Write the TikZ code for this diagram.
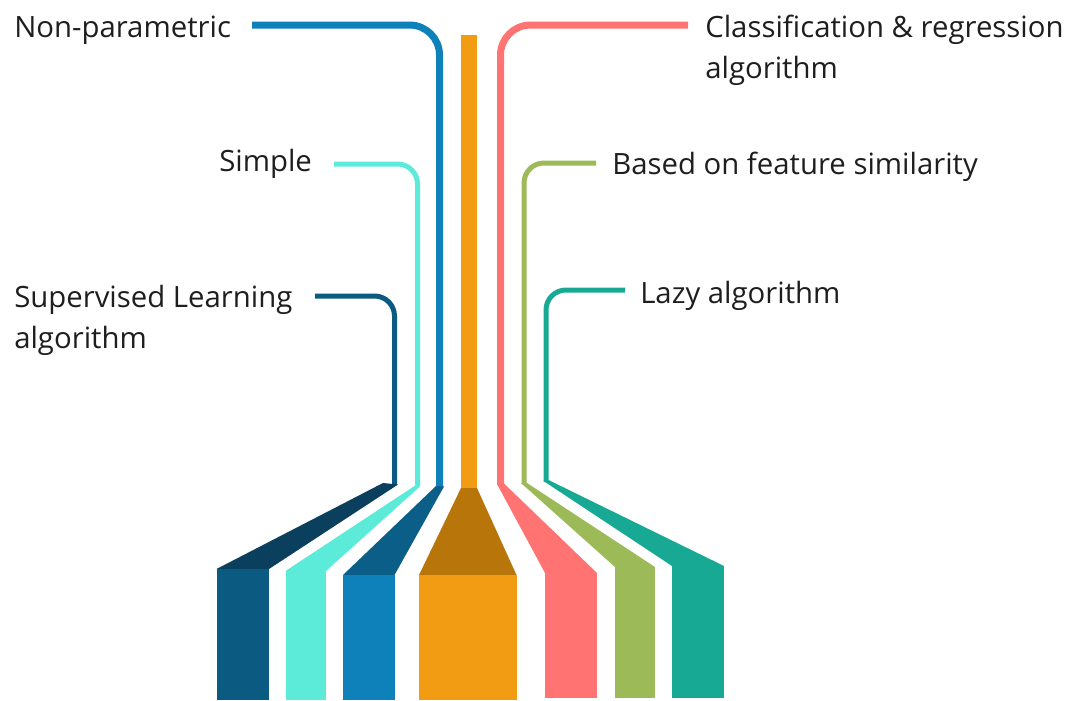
\documentclass[tikz,border=0pt]{standalone}
\usepackage{fontspec}
\setmainfont{Open Sans}
\definecolor{txt}{HTML}{1E1E1E}
\definecolor{navy}{HTML}{0B5A82}
\definecolor{navydark}{HTML}{0A3F5E}
\definecolor{turq}{HTML}{5CEBD8}
\definecolor{blu}{HTML}{0E80BA}
\definecolor{bludark}{HTML}{0B5E87}
\definecolor{orng}{HTML}{F29C14}
\definecolor{orngdark}{HTML}{B8760A}
\definecolor{salmon}{HTML}{FF7372}
\definecolor{olive}{HTML}{9DBA58}
\definecolor{teal}{HTML}{18A995}
\begin{document}
\begin{tikzpicture}[x=0.75pt,y=-0.75pt,line join=round,
	lbl/.style={anchor=base west,inner sep=0pt,text=txt,align=left,font=\fontsize{22}{30.75}\selectfont},
	wideline/.style={line width=5.25pt,rounded corners=22.5pt},
	slimline/.style={line width=3.75pt,rounded corners=15pt}]
	\useasboundingbox (0,0) rectangle (1074,700);
	\def\yb{700}
	% labels (base = last line)
	\node[lbl] (np) at (14,37) {Non-parametric};
	\node[lbl] (simple) at (219,171) {Simple};
	\node[lbl] (sup) at (14,348) {Supervised Learning\\algorithm};
	\node[lbl] (clsreg) at (705,78) {Classification \& regression\\algorithm};
	\node[lbl] (feat) at (612,174) {Based on feature similarity};
	\node[lbl] (lazy) at (640,303) {Lazy algorithm};
	% line ends
	\coordinate (npa) at (252,25);     \coordinate (npb) at (439.5,487);
	\coordinate (sima) at (334,164);   \coordinate (simb) at (417.5,487);
	\coordinate (supa) at (315,296);   \coordinate (supb) at (394.5,485);
	\coordinate (clsa) at (688,25);    \coordinate (clsb) at (500.5,485);
	\coordinate (feata) at (596,163);  \coordinate (featb) at (524,484);
	\coordinate (lazya) at (625,290);  \coordinate (lazyb) at (546,482);
	\draw[wideline,blu] (npa) -| (npb);
	\draw[slimline,turq] (sima) -| (simb);
	\draw[slimline,navy] (supa) -| (supb);
	\draw[wideline,salmon] (clsa) -| (clsb);
	\draw[slimline,olive] (feata) -| (featb);
	\draw[slimline,teal] (lazya) -| (lazyb);
	\fill[orng] (461,35) rectangle (477,489);
	% strips
	\fill[navydark] (383,483)--(398,484.5)--(269,569)--(216.5,569)--cycle;
	\fill[navy] (216.5,569) rectangle (269,\yb);
	\fill[turq] (414.5,486)--(420.5,486)--(326,571)--(285.5,571)--cycle;
	\fill[turq] (285.5,571) rectangle (326,\yb);
	\fill[bludark] (436,486)--(444,486.5)--(394.5,575)--(343,575)--cycle;
	\fill[blu] (343,575) rectangle (394.5,\yb);
	\fill[orngdark] (461,488)--(477,488)--(516.5,575)--(419,575)--cycle;
	\fill[orng] (419,575) rectangle (516.5,\yb);
	\fill[salmon] (497,484)--(504.5,484)--(597,573)--(545,573)--cycle;
	\fill[salmon] (545,573) rectangle (597,698);
	\fill[olive] (521,483)--(527,483)--(655,567)--(615,567)--cycle;
	\fill[olive] (615,567) rectangle (655,697.5);
	\fill[teal] (543.5,481)--(548.5,480)--(724,566)--(672,566)--cycle;
	\fill[teal] (672,566) rectangle (724,698);
\end{tikzpicture}
\end{document}
